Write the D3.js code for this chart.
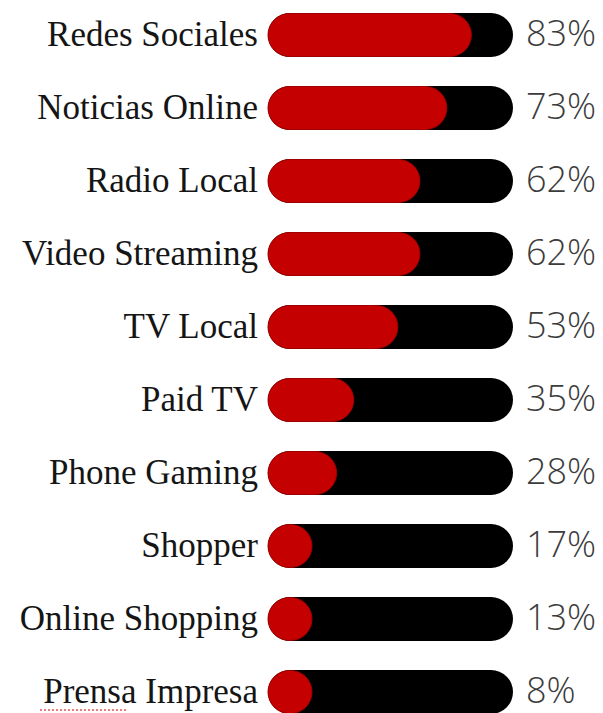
<!DOCTYPE html>
<html>
<head>
<meta charset="utf-8">
<script src="https://cdn.jsdelivr.net/npm/d3@7"></script>
<style>
  html, body { margin: 0; padding: 0; background: #fff; }
  svg { display: block; }
</style>
</head>
<body>
<svg id="chart" width="603" height="713"></svg>
<script>
// Media usage by channel (percent of respondents)
const categories = [
  "Redes Sociales", "Noticias Online", "Radio Local", "Video Streaming", "TV Local",
  "Paid TV", "Phone Gaming", "Shopper", "Online Shopping", "Prensa Impresa"
];
const values = [83, 73, 62, 62, 53, 35, 28, 17, 13, 8];
const valueLabels = ["83%", "73%", "62%", "62%", "53%", "35%", "28%", "17%", "13%", "8%"];

const rows = categories.map((c, i) => ({ name: c, value: values[i], label: valueLabels[i] }));

const svg = d3.select("#chart");
const barH = 44;

const y = d3.scalePoint().domain(categories).range([35, 692]);
const x = d3.scaleLinear().domain([0, 100]).range([268, 513]);

const g = svg.selectAll("g.row").data(rows).join("g")
  .attr("class", "row")
  .attr("transform", d => `translate(0,${y(d.name)})`);

// full-width black track
g.append("rect")
  .attr("x", x(0))
  .attr("y", -barH / 2)
  .attr("width", x(100) - x(0))
  .attr("height", barH)
  .attr("rx", barH / 2)
  .attr("fill", "#000");

// red value bar, never narrower than its rounded cap
g.append("rect")
  .attr("x", x(0))
  .attr("y", -barH / 2 + 0.5)
  .attr("width", d => Math.max(x(d.value) - x(0), barH))
  .attr("height", barH - 1)
  .attr("rx", (barH - 1) / 2)
  .attr("fill", "#c50000")
  .attr("stroke", "#a00000")
  .attr("stroke-width", 1);

// category names
g.append("text")
  .attr("x", 258)
  .attr("y", 11)
  .attr("text-anchor", "end")
  .attr("font-family", "'Liberation Serif', 'Times New Roman', serif")
  .attr("font-size", 35)
  .attr("fill", "#151515")
  .text(d => d.name);

// percentage labels
g.append("text")
  .attr("x", 526)
  .attr("y", 11)
  .attr("text-anchor", "start")
  .attr("font-family", "'Open Sans', sans-serif")
  .attr("font-weight", 300)
  .attr("font-size", 36)
  .attr("fill", "#3c3c3c")
  .text(d => d.label);

// dotted underline under the first word of the last label
const last = rows[rows.length - 1];
svg.append("line")
  .attr("x1", 40)
  .attr("x2", 128)
  .attr("y1", y(last.name) + 18)
  .attr("y2", y(last.name) + 18)
  .attr("stroke", "#e05050")
  .attr("stroke-width", 1.5)
  .attr("stroke-dasharray", "2,2");
</script>
</body>
</html>
